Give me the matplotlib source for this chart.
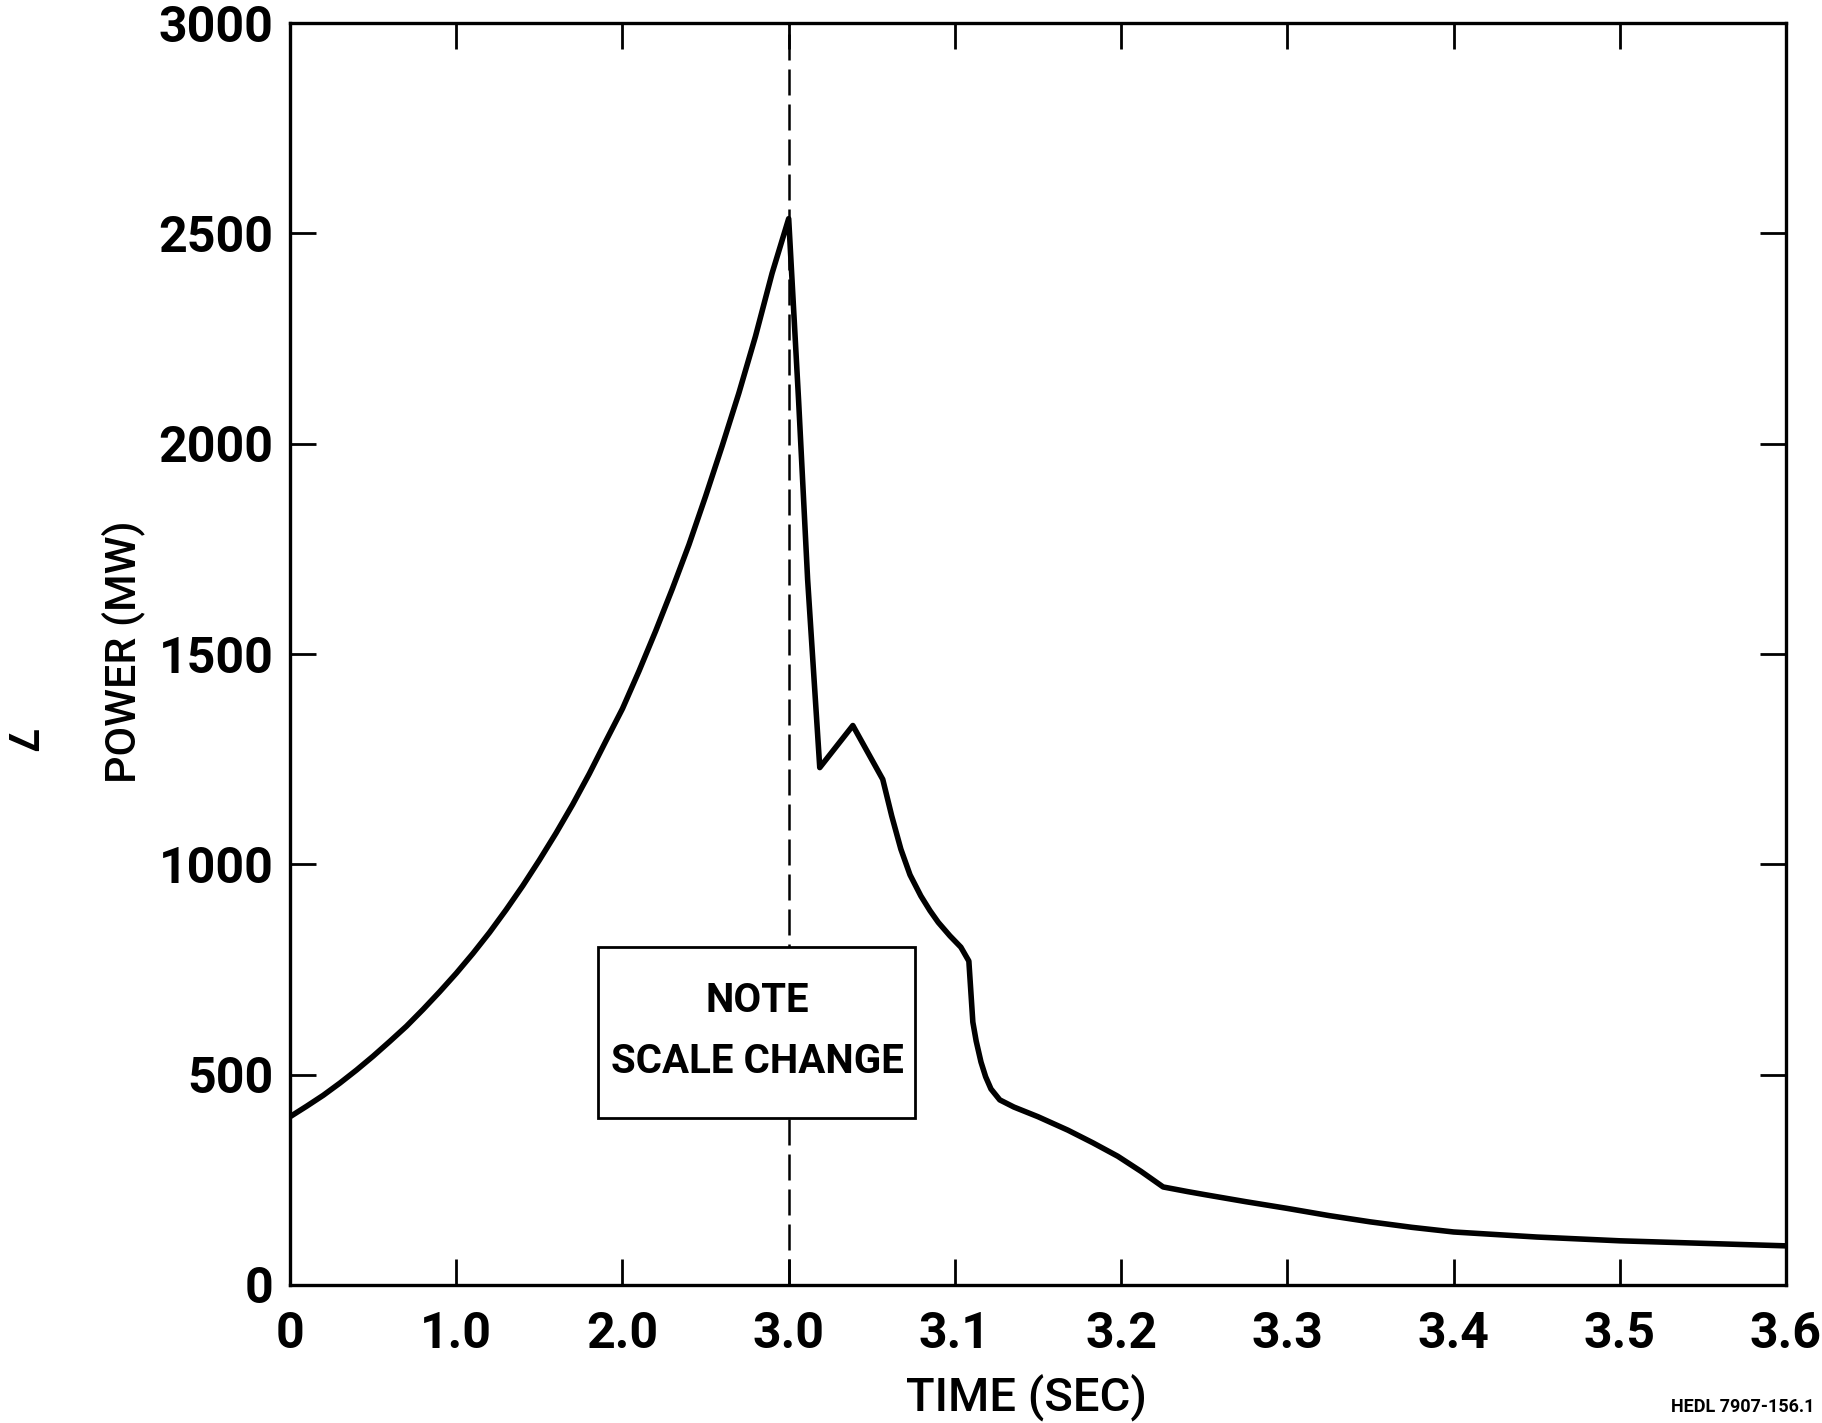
import numpy as np
import matplotlib
matplotlib.use("Agg")
import matplotlib.pyplot as plt
from matplotlib.patches import Rectangle

plt.rcParams['font.family'] = ['Roboto', 'DejaVu Sans']

# power trace
time_s = [0.0, 0.1, 0.2, 0.3, 0.4, 0.5, 0.6, 0.7, 0.8, 0.9,
          1.0, 1.1, 1.2, 1.3, 1.4, 1.5, 1.6, 1.7, 1.8, 1.9,
          2.0, 2.1, 2.2, 2.3, 2.4, 2.5, 2.6, 2.7, 2.8, 2.9, 3.0,
          3.006, 3.0114, 3.0187, 3.0386, 3.0566, 3.062, 3.0675, 3.073, 3.0795,
          3.085, 3.09, 3.097, 3.1036, 3.1084, 3.1108, 3.1128, 3.1157, 3.1185,
          3.1217, 3.127, 3.1355, 3.15, 3.168, 3.183, 3.198, 3.212, 3.2253,
          3.24, 3.25, 3.275, 3.3, 3.325, 3.35, 3.375, 3.4, 3.45, 3.5, 3.55, 3.6]
power_mw = [400, 425, 451, 480, 511, 544, 579, 615, 655, 697,
            741, 788, 838, 892, 949, 1010, 1074, 1142, 1215, 1293,
            1370, 1460, 1555, 1655, 1760, 1875, 1995, 2120, 2255, 2405, 2535,
            2100, 1677, 1230, 1330, 1202, 1115, 1036, 975, 925,
            890, 862, 830, 803, 770, 625, 580, 530, 495,
            466, 440, 423, 400, 368, 338, 306, 270, 233,
            222, 215, 198, 182, 165, 150, 137, 126, 114, 105, 99, 93]

xticks = [0, 1.0, 2.0, 3.0, 3.1, 3.2, 3.3, 3.4, 3.5, 3.6]
xticklabels = ['0', '1.0', '2.0', '3.0', '3.1', '3.2', '3.3', '3.4', '3.5', '3.6']
yticks = [0, 500, 1000, 1500, 2000, 2500, 3000]
scale_break = 3.0


# axis is stretched 10x after 3.0 s
def fwd(t):
    t = np.asarray(t, dtype=float)
    return np.where(t <= scale_break, t, scale_break + (t - scale_break) * 10)


def inv(p):
    p = np.asarray(p, dtype=float)
    return np.where(p <= scale_break, p, scale_break + (p - scale_break) / 10)


fig = plt.figure(figsize=(18.22, 14.23), dpi=100)
ax = fig.add_axes([0.1592, 0.0970, 0.8210, 0.8868])
ax.set_xscale('function', functions=(fwd, inv))
ax.set_xlim(0, 3.6)
ax.set_ylim(0, 3000)

ax.plot(time_s, power_mw, color='black', lw=4, zorder=3)
ax.axvline(scale_break, color='black', lw=1.8, dashes=(10.4, 3.6), zorder=1)

ax.set_xticks(xticks)
ax.set_xticklabels(xticklabels)
ax.set_yticks(yticks)
ax.tick_params(direction='in', length=19, width=2, labelsize=36,
               top=True, right=True)
ax.tick_params(axis='x', pad=19)
ax.tick_params(axis='y', pad=12)
for lab in ax.get_xticklabels() + ax.get_yticklabels():
    lab.set_fontweight('bold')
for s in ax.spines.values():
    s.set_linewidth(2.4)

ax.set_xlabel('TIME (SEC)', fontsize=34, fontweight='medium')
ax.xaxis.set_label_coords(0.4926, -0.071)
ax.set_ylabel('POWER (MW)', fontsize=31, fontweight='medium')
ax.yaxis.set_label_coords(-0.097, 0.502)

# note box over the dashed line
ax.add_patch(Rectangle((0.206, 0.132), 0.212, 0.136, transform=ax.transAxes,
                       facecolor='white', edgecolor='black', lw=2, zorder=4))
ax.text(0.3126, 0.225, 'NOTE', transform=ax.transAxes, ha='center', va='center',
        fontsize=29, fontweight='bold', zorder=5)
ax.text(0.3126, 0.177, 'SCALE CHANGE', transform=ax.transAxes, ha='center',
        va='center', fontsize=29, fontweight='bold', zorder=5)

fig.text(0.010, 0.479, '7', rotation=270, ha='center', va='center',
         fontsize=30, fontweight='bold')
fig.text(0.996, 0.011, 'HEDL 7907-156.1', ha='right', va='center',
         fontsize=13, fontweight='bold')

fig.savefig('out.png', dpi=100)
